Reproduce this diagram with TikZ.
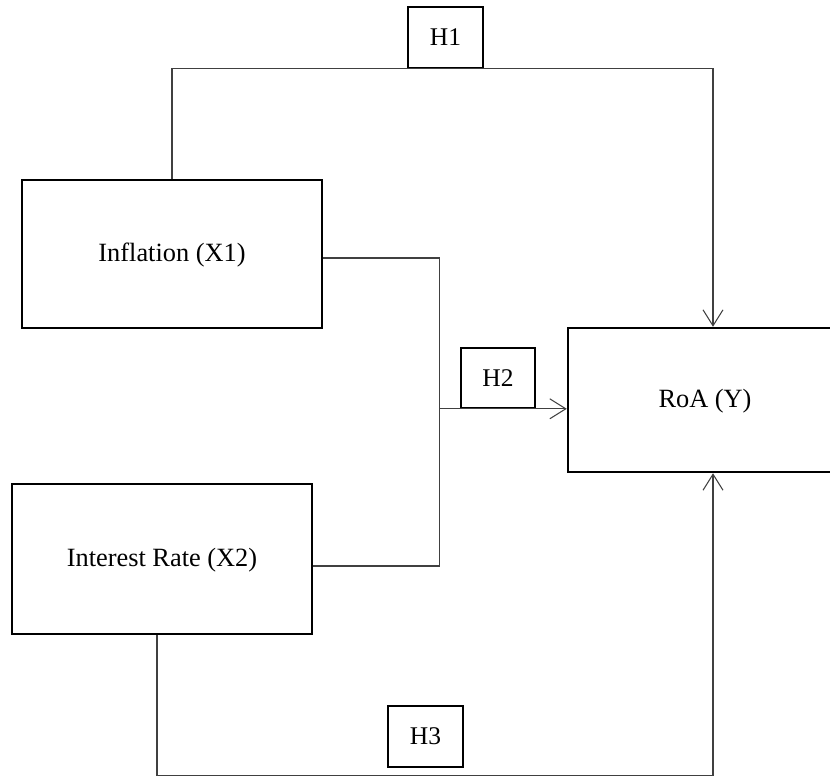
\documentclass[tikz,border=0pt]{standalone}
\usepackage{fontspec}
\setmainfont{Liberation Serif}
\usetikzlibrary{arrows.meta}

\begin{document}
\begin{tikzpicture}[
  varbox/.style={draw=black, line width=1.4pt, text height=1.1em, text depth=0.25em,
                 font=\fontsize{15}{18}\selectfont},
  hypbox/.style={draw=black, line width=0.9pt, minimum width=1.5cm, minimum height=1.22cm,
                 font=\fontsize{14.5}{17}\selectfont},
  link/.style={draw=black!75, line width=0.6pt},
  arr/.style={link, -{Straight Barb[length=0.32cm, width=0.4cm]}}
]
\clip (0,0) rectangle (16.6,-15.52);

% Variables
\node[varbox, minimum width=6cm, minimum height=2.96cm] (inf) at (3.44,-5.08) {Inflation (X1)};
\node[varbox, minimum width=6cm, minimum height=3.0cm] (int) at (3.24,-11.18) {Interest Rate (X2)};
\node[varbox, minimum width=5.48cm, minimum height=2.88cm] (roa) at (14.1,-8.0) {RoA (Y)};

% Hypotheses
\node[hypbox] (h1) at (8.91,-0.75) {H1};
\node[hypbox, minimum width=1.48cm, minimum height=1.2cm] (h2) at (9.96,-7.56) {H2};
\node[hypbox] (h3) at (8.51,-14.73) {H3};

% H1
\draw[arr] (inf.north) |- (h1.south) -| ([xshift=0.16cm]roa.north);

% H2
\coordinate (join) at ([xshift=-0.42cm]h2.south west);
\draw[link] ([yshift=-0.08cm]inf.east) -| (join);
\draw[link] ([yshift=-0.14cm]int.east) -| (join);
\draw[arr] (join) -- (join -| roa.west);

% H3
\draw[arr] ([xshift=-0.1cm]int.south) |- ([yshift=-0.16cm]h3.south) -| ([xshift=0.16cm]roa.south);

\end{tikzpicture}
\end{document}
